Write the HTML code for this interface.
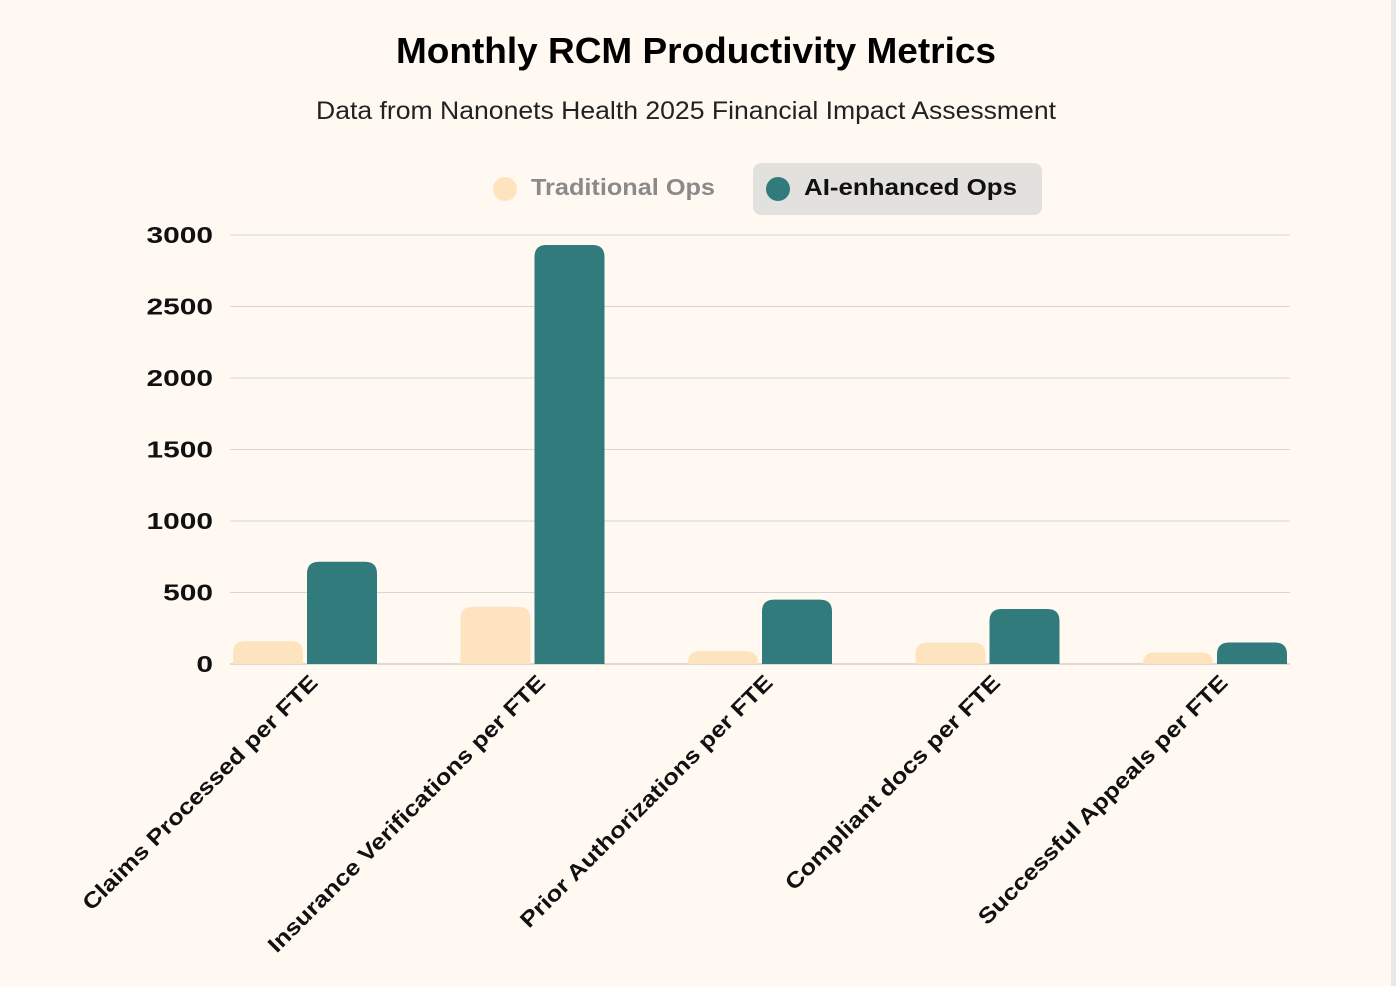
<!DOCTYPE html>
<html><head><meta charset="utf-8"><style>
body{margin:0;width:1396px;height:986px;background:#fff9f2;font-family:"Liberation Sans",sans-serif;overflow:hidden;position:relative}
#strip{position:absolute;left:1391px;top:0;width:5px;height:986px;background:#e8e8ec}
</style></head><body>
<div id="strip"></div>
<svg width="1396" height="986" style="position:absolute;left:0;top:0">
<text x="696" y="63" text-anchor="middle" font-size="36" font-weight="bold" fill="#000" textLength="600" lengthAdjust="spacingAndGlyphs">Monthly RCM Productivity Metrics</text>
<text x="686" y="119" text-anchor="middle" font-size="25" fill="#222" textLength="740" lengthAdjust="spacingAndGlyphs">Data from Nanonets Health 2025 Financial Impact Assessment</text>
<g><circle cx="505" cy="189" r="12" fill="#fee4be"/><text x="531" y="195" font-size="23" font-weight="bold" fill="#8a8a8a" textLength="184" lengthAdjust="spacingAndGlyphs">Traditional Ops</text></g>
<g><rect x="753" y="163" width="289" height="52" rx="8" fill="#e3e1de"/><circle cx="778" cy="189" r="12" fill="#327b7c"/><text x="804" y="195" font-size="23" font-weight="bold" fill="#111" textLength="213" lengthAdjust="spacingAndGlyphs">AI-enhanced Ops</text></g>
<g id="grid"></g><g id="bars"></g><g id="labels"></g>
</svg>
<script>
const categories=["Claims Processed per FTE","Insurance Verifications per FTE","Prior Authorizations per FTE","Compliant docs per FTE","Successful Appeals per FTE"];
const traditional=[160,400,90,150,80];
const aiEnhanced=[715,2930,450,385,150];
const ticks=[0,500,1000,1500,2000,2500,3000];
const NS="http://www.w3.org/2000/svg";
const x0=230,x1=1290,y0=664,yTop=235,maxV=3000;
const y=v=>y0-(v/maxV)*(y0-yTop);
const n=categories.length;
const xc=i=>x0+75+i*(x1-x0-150)/(n-1);
function mk(t,a,p){const e=document.createElementNS(NS,t);for(const k in a)e.setAttribute(k,a[k]);p.appendChild(e);return e;}
const g=document.getElementById('grid'),b=document.getElementById('bars'),l=document.getElementById('labels');
ticks.forEach(t=>{
 const ln=mk('line',{x1:x0,x2:x1,y1:y(t),y2:y(t),stroke:t===0?'#bbb':'#d6d6d6','stroke-width':1},g);
 
 
 const tx=mk('text',{x:213,y:y(t)+8,'text-anchor':'end','font-size':23,'font-weight':'bold',fill:'#111'},g);
 tx.textContent=t;
 
 
 const w=tx.getComputedTextLength();
 tx.setAttribute('textLength',w*1.3);
 tx.setAttribute('lengthAdjust','spacingAndGlyphs');
});
function bar(xl,v,fill){
 const w=70,h=y0-y(v),r=Math.min(12,h);
 const d=`M${xl},${y0}V${y(v)+r}Q${xl},${y(v)} ${xl+r},${y(v)}H${xl+w-r}Q${xl+w},${y(v)} ${xl+w},${y(v)+r}V${y0}Z`;
 return mk('path',{d:d,fill:fill},b);
}
categories.forEach((c,i)=>{
 const p1=bar(xc(i)-72,traditional[i],'#fee4be');
 
 
 const p2=bar(xc(i)+2,aiEnhanced[i],'#327b7c');
 
 
 const ax=xc(i)+14,ay=684;
 const t=mk('text',{x:ax,y:ay,'text-anchor':'end','font-size':22,'font-weight':'bold',fill:'#111',transform:`rotate(-45 ${ax} ${ay})`},l);
 t.textContent=c;
 
 
 const w=t.getComputedTextLength();
 t.setAttribute('textLength',w*1.16);
 t.setAttribute('lengthAdjust','spacingAndGlyphs');
});
</script>
</body></html>
